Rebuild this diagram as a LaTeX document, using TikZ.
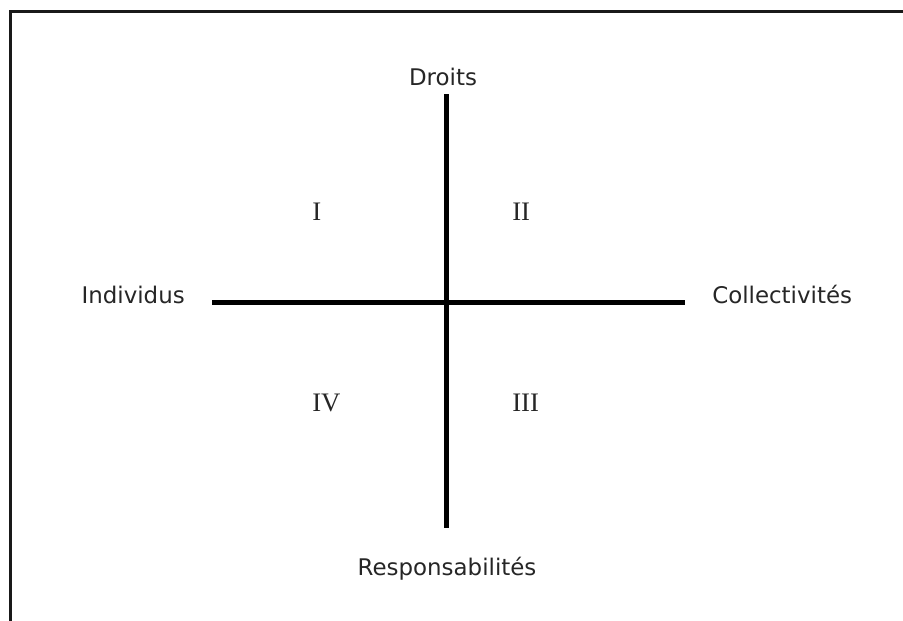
\documentclass[tikz,border=0pt]{standalone}
\usepackage{fontspec}
\setmainfont{DejaVu Sans}
\newfontfamily\romfont{Liberation Serif}
\usepackage{tikz}
\usetikzlibrary{positioning}
\tikzset{
  axe/.style={draw=black, line width=1.25mm, line cap=butt},
  cadre/.style={draw=black!90, line width=0.75mm},
  pole/.style={inner sep=0pt, font=\fontsize{16.3}{19}\selectfont, text=black!85},
  quad/.style={inner sep=0pt, anchor=base west, font=\romfont\fontsize{19}{22}\selectfont, text=black!85},
}
\begin{document}
\begin{tikzpicture}[x=0.25mm, y=-0.25mm]
\useasboundingbox (0,0) rectangle (903,621);
% cadre
\draw[cadre] (10.3,621) -- (10.3,11.3) -- (903,11.3);
% axes
\coordinate (nord) at (446.5,94);
\coordinate (sud) at (446.5,528);
\coordinate (ouest) at (212,302.5);
\coordinate (est) at (685,302.5);
\draw[axe] (ouest) -- (est);
\draw[axe] (nord) -- (sud);
% poles
\node[pole, anchor=base] (droits) at (443,85) {Droits};
\node[pole, anchor=base] (resp) at (447,575) {Responsabilités};
\node[pole, anchor=base east] (indiv) at (185,303) {Individus};
\node[pole, anchor=base west] (collec) at (712,303) {Collectivités};
% quadrants
\node[quad] (q1) at (312,220) {I};
\node[quad] (q2) at (512,220) {II};
\node[quad] (q3) at (512,411) {III};
\node[quad] (q4) at (312,411) {IV};
\end{tikzpicture}
\end{document}
